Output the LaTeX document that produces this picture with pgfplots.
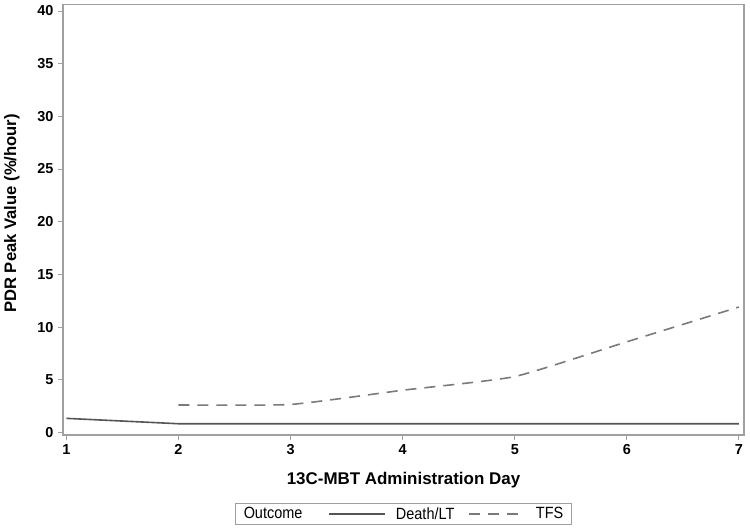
\documentclass[border=0pt]{standalone}
\usepackage{fontspec}
\setmainfont{Liberation Sans}
\newfontfamily\legfont[FakeStretch=0.89]{Liberation Sans}
\usepackage{pgfplots}
\pgfplotsset{compat=1.18}
\definecolor{axgray}{HTML}{A0A0A0}
\definecolor{solidc}{HTML}{555555}
\definecolor{dashc}{HTML}{7A7A7A}
\begin{document}
\begin{tikzpicture}[x=1bp,y=1bp]
\begin{axis}[
  at={(0,0)}, anchor=south west,
  scale only axis,
  width=681bp, height=430.3bp,
  xmin=0.97, xmax=7.045,
  ymin=-0.25, ymax=40.6,
  xtick={1,2,3,4,5,6,7},
  ytick={0,5,10,15,20,25,30,35,40},
  tick align=outside,
  xtick pos=left, ytick pos=left,
  major tick length=5bp,
  axis line style={axgray, line width=1.2pt},
  tick style={axgray, line width=1pt},
  every tick label/.style={font=\fontsize{14.5}{17}\selectfont\bfseries},
  /pgf/number format/assume math mode=true,
  xticklabel style={yshift=-1bp},
  yticklabel style={xshift=-1bp},
  xlabel={\fontsize{17}{19}\selectfont\bfseries 13C-MBT Administration Day},
  ylabel={\fontsize{16.7}{19}\selectfont\bfseries PDR Peak Value (\%/hour)},
  xlabel style={at={(axis description cs:0.5,0)}, anchor=north, yshift=-34bp},
  ylabel style={at={(axis description cs:0,0.515)}, anchor=south, yshift=40bp},
  legend columns=-1,
  legend style={at={(0.5,0)}, anchor=north, yshift=-68bp,
    draw=axgray, line width=0.8pt,
    font=\fontsize{16.3}{18}\selectfont\legfont,
    inner ysep=0bp, inner xsep=8bp,
    nodes={inner xsep=0bp, inner ysep=4bp},
    /tikz/every odd column/.append style={column sep=10bp},
    /tikz/every even column/.append style={column sep=14bp}},
  legend image code/.code={\draw[#1, line width=1.6pt] (0bp,0bp) -- (56bp,0bp);},
]
\addlegendimage{empty legend}
\addlegendentry{\hspace*{-10bp}Outcome\hspace*{12bp}}
\addplot[solidc, line width=1.6pt] coordinates {
  (1,1.33) (2,0.82) (3,0.82) (4,0.82) (5,0.82) (6,0.82) (7,0.82)
};
\addlegendentry{Death/LT}
\addplot[dashc, line width=1.6pt, dash pattern=on 11bp off 8bp, smooth, tension=0.3] coordinates {
  (2,2.6) (3,2.65) (4,4.0) (5,5.3) (6,8.6) (7,11.9)
};
\addlegendentry{TFS}
\end{axis}
\pgfresetboundingbox
\path[use as bounding box] (-63bp,-95bp) rectangle (687bp,435bp);
\end{tikzpicture}
\end{document}
